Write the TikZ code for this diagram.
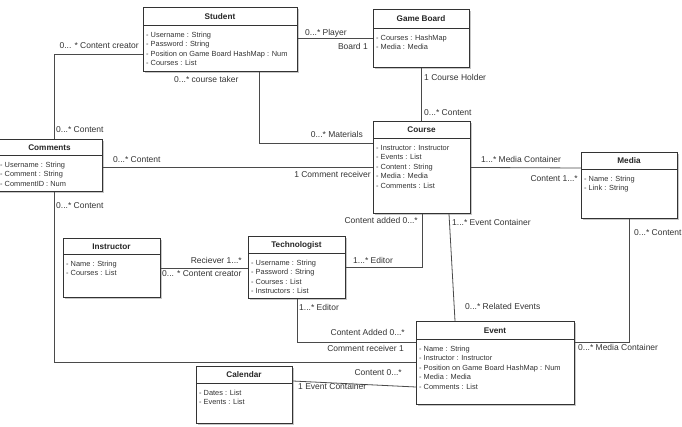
\documentclass[tikz,border=0pt]{standalone}
\usepackage{fontspec}
\setmainfont{Liberation Sans}
\usetikzlibrary{shadows,calc}
\definecolor{linec}{HTML}{4A4A4A}
\definecolor{boxc}{HTML}{333333}
\definecolor{txtc}{HTML}{333333}
\tikzset{
 classbox/.style={draw=boxc, line width=0.9pt, fill=white, inner sep=0pt,
   drop shadow={shadow xshift=1.3pt, shadow yshift=-1.6pt, opacity=0.22, fill=black}},
 titletext/.style={font=\bfseries\fontsize{8.2}{10}\selectfont, text=black!85, inner sep=0pt},
 attrtext/.style={font=\fontsize{7.4}{9.5}\selectfont, text=txtc, inner sep=0pt},
 conn/.style={draw=linec, line width=0.8pt},
 lbl/.style={font=\fontsize{8.5}{10}\selectfont, text=txtc, inner sep=0pt},
}
% name, x, y, w, h, sep, title, attributes
\newcommand{\umlclass}[8]{%
  \node[classbox, minimum width=#4pt, minimum height=#5pt, anchor=north west] (#1) at (#2,#3) {};
  \draw[draw=boxc, line width=0.9pt] ([yshift=-#6pt]#1.north west) -- ([yshift=-#6pt]#1.north east);
  \node[titletext, anchor=base] at (#2+#4/2, #3+#6/2+3) {#7};
  \foreach \attr [count=\i] in {#8} {%
    \node[attrtext, anchor=base west] at (#2+3, #3+#6+12.4+\i*9.5-9.5) {\attr};
  }%
}
\begin{document}
\begin{tikzpicture}[x=1pt, y=-1pt]
\useasboundingbox (0,0) rectangle (682,426);
\clip (0,0) rectangle (682,426);

\umlclass{student}{143}{7}{154}{64}{18}{Student}{- Username : String, - Password : String, - Position on Game Board HashMap : Num, - Courses : List}
\umlclass{gameboard}{373}{9}{96}{58}{19}{Game Board}{- Courses : HashMap, - Media : Media}
\umlclass{course}{373}{121}{97}{92}{17}{Course}{- Instructor : Instructor, - Events : List, - Content : String, - Media : Media, - Comments : List}
\umlclass{media}{581}{152}{96}{66}{17}{Media}{- Name : String, - Link : String}
\umlclass{comments}{-3}{139}{105}{52}{16}{Comments}{- Username : String, - Comment : String, - CommentID : Num}
\umlclass{instructor}{63}{238}{97}{59}{16}{Instructor}{- Name : String, - Courses : List}
\umlclass{technologist}{248}{236}{97}{62}{17}{Technologist}{- Username : String, - Password : String, - Courses : List, - Instructors : List}
\umlclass{event}{416}{321}{158}{83}{18}{Event}{- Name : String, - Instructor : Instructor, - Position on Game Board HashMap : Num, - Media : Media, - Comments : List}
\umlclass{calendar}{196}{366}{96}{57}{17}{Calendar}{- Dates : List, - Events : List}

% connectors
\draw[conn] (student.east |- gameboard.west) -- (gameboard.west);
\draw[conn] ([yshift=-47pt]student.north west) -| ([xshift=57pt]comments.north west);
\draw[conn] ([xshift=116pt]student.south west) |- ([yshift=-22pt]course.north west);
\draw[conn] (gameboard.south) -- (gameboard.south |- course.north);
\draw[conn] ([yshift=-2pt]comments.east) -- (course.west);
\draw[conn] (course.east) -- ([yshift=-16pt]media.north west);
\draw[conn] ([xshift=57pt]comments.south west) |- ([yshift=-41pt]event.north west);
\draw[conn] (instructor.east) -- (instructor.east -| technologist.west);
\draw[conn] (technologist.east) -| ([xshift=49pt]course.south west);
\draw[conn] (technologist.south) |- ([yshift=-21pt]event.north west);
\draw[conn] ([xshift=76pt]course.south west) -- ([xshift=39pt]event.north west);
\draw[conn] ([yshift=-15pt]calendar.north east) -- ([yshift=-66pt]event.north west);
\draw[conn] ([xshift=48pt]media.south west) |- ([yshift=-21pt]event.north east);

% labels
\node[lbl, anchor=base west] at (305,35) {0...* Player};
\node[lbl, anchor=base east] at (368,49) {Board 1};
\node[lbl, anchor=base east] at (139,48) {0... * Content creator};
\node[lbl, anchor=base west] at (174,82) {0...* course taker};
\node[lbl, anchor=base west] at (56,132) {0...* Content};
\node[lbl, anchor=base east] at (363,137) {0...* Materials};
\node[lbl, anchor=base west] at (424,80) {1 Course Holder};
\node[lbl, anchor=base west] at (424,115) {0...* Content};
\node[lbl, anchor=base west] at (113,162) {0...* Content};
\node[lbl, anchor=base east] at (371,177) {1 Comment receiver};
\node[lbl, anchor=base west] at (481,162) {1...* Media Container};
\node[lbl, anchor=base east] at (578,181) {Content 1...*};
\node[lbl, anchor=base west] at (56,208) {0...* Content};
\node[lbl, anchor=base west] at (634,235) {0...* Content};
\node[lbl, anchor=base east] at (418,223) {Content added 0...*};
\node[lbl, anchor=base west] at (452,225) {1...* Event Container};
\node[lbl, anchor=base east] at (242,263) {Reciever 1...*};
\node[lbl, anchor=base west] at (162,276) {0... * Content creator};
\node[lbl, anchor=base west] at (353,263) {1...* Editor};
\node[lbl, anchor=base west] at (299,310) {1...* Editor};
\node[lbl, anchor=base west] at (465,309) {0...* Related Events};
\node[lbl, anchor=base east] at (405,335) {Content Added 0...*};
\node[lbl, anchor=base east] at (404,351) {Comment receiver 1};
\node[lbl, anchor=base east] at (402,375) {Content 0...*};
\node[lbl, anchor=base west] at (298,389) {1 Event Container};
\node[lbl, anchor=base west] at (578,350) {0...* Media Container};
\end{tikzpicture}
\end{document}
